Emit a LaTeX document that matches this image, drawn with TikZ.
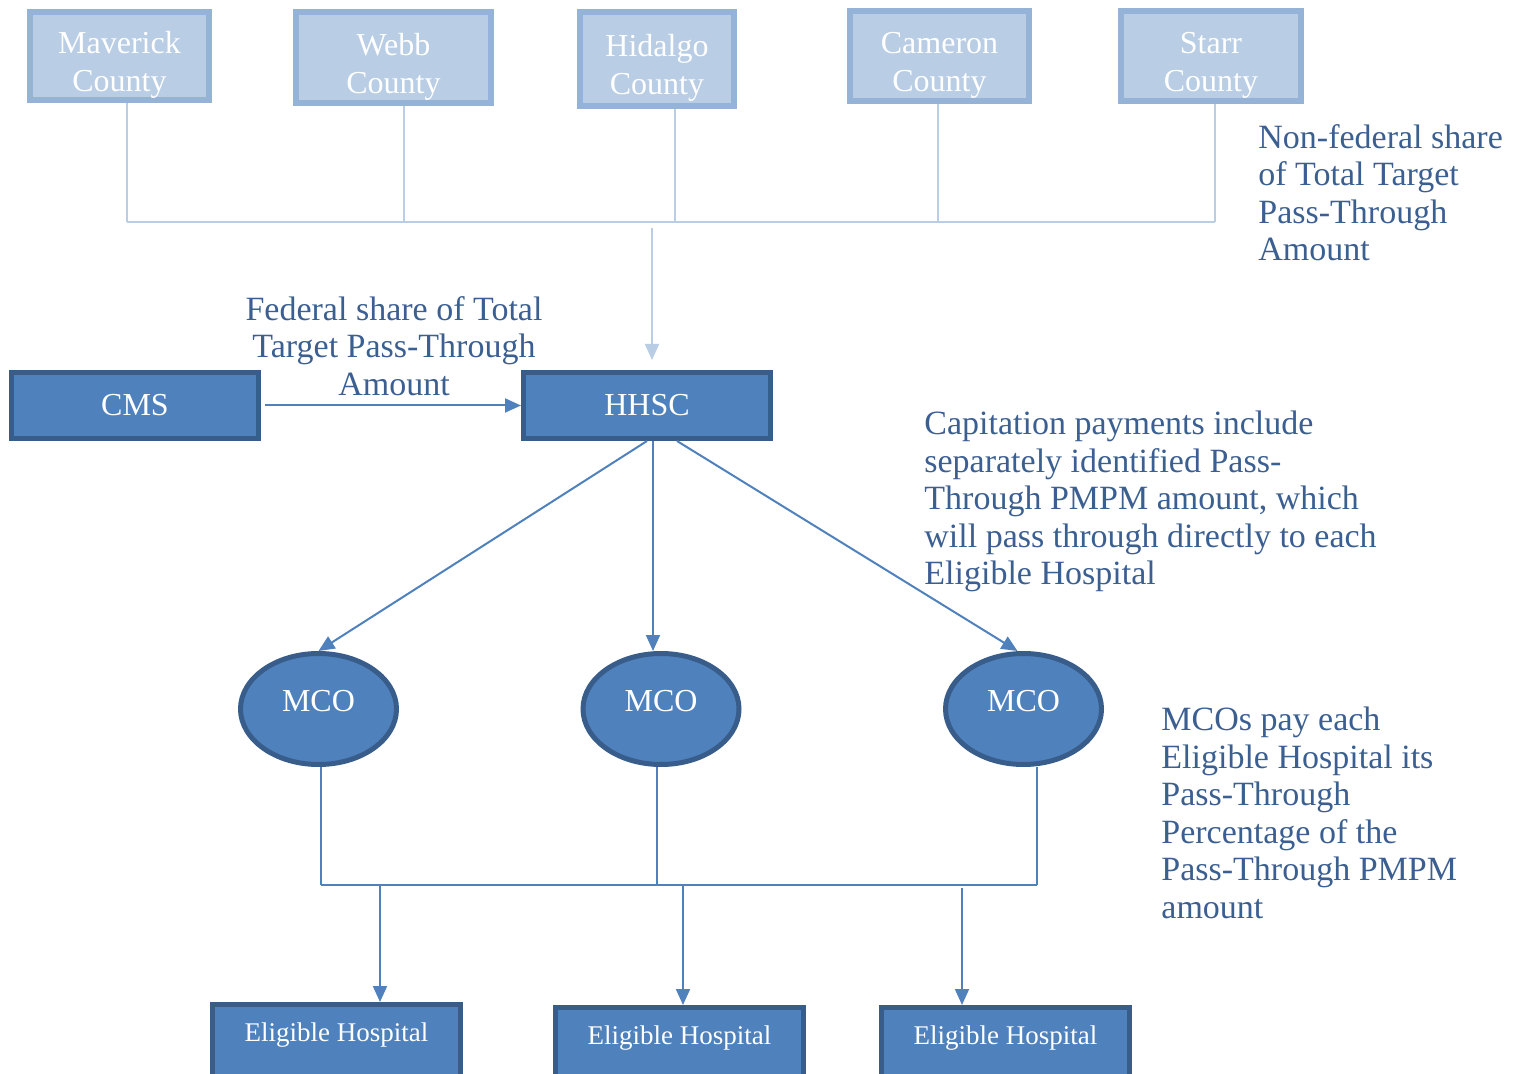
\documentclass[tikz,border=0pt]{standalone}
\usepackage{fontspec}
\setmainfont{Liberation Serif}
\usepackage{tikz}
\usetikzlibrary{arrows.meta,shapes.geometric}
\definecolor{cty_fill}{RGB}{185, 205, 229}
\definecolor{cty_line}{RGB}{149, 179, 215}
\definecolor{box_fill}{RGB}{79, 129, 189}
\definecolor{box_line}{RGB}{56, 93, 138}
\definecolor{note_blue}{RGB}{59, 95, 145}
\tikzstyle{cty}=[rectangle,fill=cty_fill,draw=cty_line,line width=3pt,
  text=white,align=center,inner sep=0pt,text height=39pt,
  font=\fontsize{16}{19}\selectfont]
\tikzstyle{bx}=[rectangle,fill=box_fill,draw=box_line,line width=2.5pt,
  text=white,inner sep=0pt,minimum width=123.5pt,minimum height=33pt,
  font=\fontsize{16}{19}\selectfont]
\tikzstyle{hosp}=[rectangle,fill=box_fill,draw=box_line,line width=2.5pt,
  text=white,inner sep=0pt,minimum width=124pt,minimum height=50pt,
  text depth=22pt,font=\fontsize{13.5}{16}\selectfont]
\tikzstyle{mco}=[ellipse,fill=box_fill,draw=box_line,line width=2.5pt,
  text=white,inner sep=0pt,minimum width=78pt,minimum height=55.5pt,
  text depth=8pt,font=\fontsize{16}{19}\selectfont]
\tikzstyle{note}=[text=note_blue,inner sep=0pt,font=\fontsize{17}{18.75}\selectfont]
\tikzstyle{lite}=[draw=cty_fill,line width=1pt]
\tikzstyle{dark}=[draw=box_fill,line width=1pt]

\begin{document}
\begin{tikzpicture}[x=0.5pt,y=-0.5pt,>={Triangle[length=8pt,width=7pt]}]
    \useasboundingbox (0,0) rectangle (1520,1074);
    \node [style=cty,minimum width=89.5pt,minimum height=44pt] (mav) at (119.5, 56) {Maverick\\County};
    \node [style=cty,minimum width=97.5pt,minimum height=45.5pt] (webb) at (393.5, 57.5) {Webb\\County};
    \node [style=cty,minimum width=77pt,minimum height=47pt] (hid) at (657, 59) {Hidalgo\\County};
    \node [style=cty,minimum width=89.5pt,minimum height=45pt] (cam) at (939.5, 56) {Cameron\\County};
    \node [style=cty,minimum width=90pt,minimum height=45pt] (starr) at (1211, 56) {Starr\\County};
    \coordinate (j1) at (127, 222);
    \coordinate (j2) at (404, 222);
    \coordinate (j3) at (675, 222);
    \coordinate (j4) at (938, 222);
    \coordinate (j5) at (1215, 222);
    \coordinate (feed) at (652, 228);
    \node [style=note,anchor=north west,align=left] (nonfed) at (1258, 124)
      {Non-federal share\\of Total Target\\Pass-Through\\Amount};
    \node [style=bx] (cms) at (135, 405.5) {CMS};
    \node [style=bx] (hhsc) at (647, 405.5) {HHSC};
    \node [style=note,anchor=north,align=center] (fed) at (394, 296)
      {Federal share of Total\\Target Pass-Through\\Amount};
    \node [style=note,anchor=north west,align=left] (cap) at (924, 411)
      {Capitation payments include\\separately identified Pass-\\Through PMPM amount, which\\will pass through directly to each\\Eligible Hospital};
    \node [style=mco] (m1) at (318.5, 709) {MCO};
    \node [style=mco] (m2) at (661, 709) {MCO};
    \node [style=mco] (m3) at (1023.5, 709) {MCO};
    \node [style=note,anchor=north west,align=left] (pay) at (1161, 707)
      {MCOs pay each\\Eligible Hospital its\\Pass-Through\\Percentage of the\\Pass-Through PMPM\\amount};
    \coordinate (k1) at (321, 885);
    \coordinate (k2) at (657, 885);
    \coordinate (k3) at (1037, 885);
    \coordinate (h1) at (380, 885);
    \coordinate (h2) at (683, 885);
    \coordinate (h3) at (962, 888);
    \node [style=hosp] (eh1) at (336.5, 1054.5) {Eligible Hospital};
    \node [style=hosp] (eh2) at (679.5, 1057.5) {Eligible Hospital};
    \node [style=hosp] (eh3) at (1005.5, 1057.5) {Eligible Hospital};
    \draw [style=lite] (mav.south -| j1) to (j1);
    \draw [style=lite] (webb.south -| j2) to (j2);
    \draw [style=lite] (hid.south -| j3) to (j3);
    \draw [style=lite] (cam.south -| j4) to (j4);
    \draw [style=lite] (starr.south -| j5) to (j5);
    \draw [style=lite] (j1) to (j5);
    \draw [style=lite,->,shorten >=5pt] (feed) to (feed |- hhsc.north);
    \draw [style=dark,->] ([xshift=2pt]cms.east) to (hhsc.west);
    \draw [style=dark,->] (hhsc.south) to (m1.north);
    \draw [style=dark,->] ([xshift=3pt]hhsc.south) to ([xshift=3pt]hhsc.south |- m2.north);
    \draw [style=dark,->] ([xshift=15pt]hhsc.south) to ([xshift=-3pt]m3.north);
    \draw [style=dark] (m1.south -| k1) to (k1);
    \draw [style=dark] (m2.south -| k2) to (k2);
    \draw [style=dark] (m3.south -| k3) to (k3);
    \draw [style=dark] (k1) to (k3);
    \draw [style=dark,->] (h1) to (h1 |- eh1.north);
    \draw [style=dark,->] (h2) to (h2 |- eh2.north);
    \draw [style=dark,->] (h3) to (h3 |- eh3.north);
    \end{tikzpicture}
\end{document}
